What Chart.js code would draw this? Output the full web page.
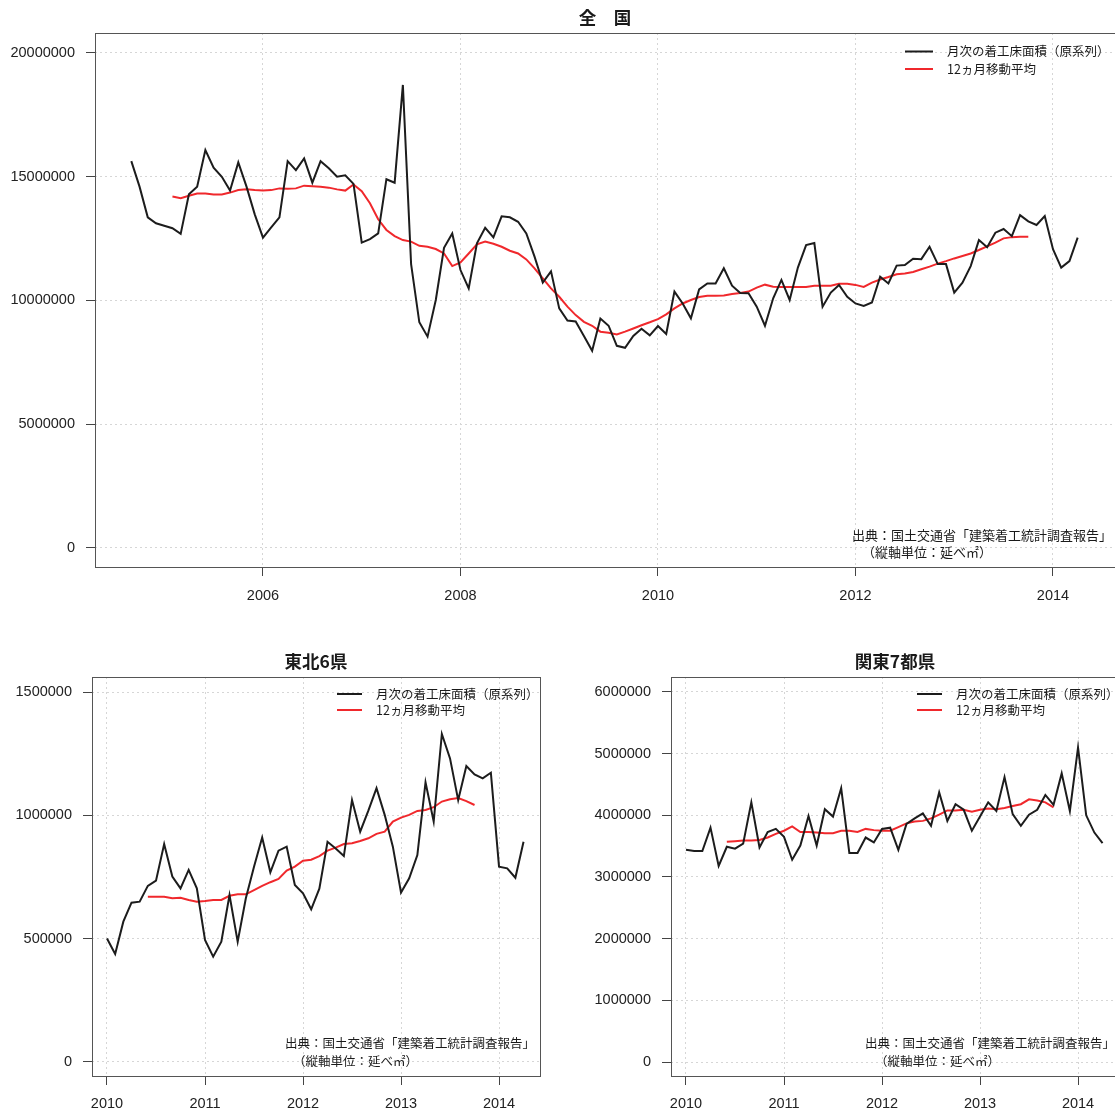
<!DOCTYPE html>
<html lang="ja">
<head>
<meta charset="utf-8">
<title>着工床面積</title>
<script src="https://cdn.jsdelivr.net/npm/chart.js@4.4.1/dist/chart.umd.min.js"></script>
<style>
  html, body { margin: 0; padding: 0; background: #fff; overflow: hidden; }
  body { width: 1115px; height: 1112px; position: relative; }
  canvas { position: absolute; }
</style>
</head>
<body>
<canvas id="zenkoku" width="1115" height="620" style="left:0;top:0"></canvas>
<canvas id="tohoku" width="557" height="482" style="left:0;top:630px"></canvas>
<canvas id="kanto" width="562" height="482" style="left:557px;top:630px"></canvas>
<script>
// 全国: 2004年9月〜2014年4月 (月次)
const zenStart = [2004, 9]
const zenMonthly = [
  15630000, 14600000, 13360000, 13120000,
  13020000, 12920000, 12690000, 14290000, 14600000, 16080000, 15370000, 15000000, 14440000, 15580000, 14600000, 13480000,
  12540000, 12950000, 13360000, 15630000, 15270000, 15740000, 14760000, 15630000, 15340000, 15000000, 15060000, 14710000,
  12340000, 12480000, 12710000, 14900000, 14760000, 18710000, 11470000, 9120000, 8540000, 10020000, 12130000, 12710000,
  11230000, 10490000, 12310000, 12940000, 12550000, 13400000, 13360000, 13180000, 12710000, 11770000, 10720000, 11180000,
  9680000, 9190000, 9150000, 8570000, 7970000, 9270000, 8980000, 8170000, 8090000, 8570000, 8860000, 8590000,
  8970000, 8650000, 10360000, 9880000, 9280000, 10450000, 10690000, 10690000, 11300000, 10600000, 10300000, 10290000,
  9750000, 8980000, 10090000, 10830000, 10020000, 11330000, 12240000, 12320000, 9750000, 10320000, 10630000, 10150000,
  9880000, 9780000, 9920000, 10960000, 10690000, 11410000, 11430000, 11690000, 11670000, 12170000, 11470000, 11470000,
  10320000, 10720000, 11390000, 12440000, 12150000, 12740000, 12890000, 12600000, 13450000, 13200000, 13050000, 13410000,
  12070000, 11330000, 11590000, 12540000
]
const zenMA = [
  null, null, null, null,
  null, 14200000, 14130000, 14230000, 14320000, 14320000, 14280000, 14280000, 14360000, 14460000, 14490000, 14460000,
  14440000, 14460000, 14530000, 14520000, 14530000, 14640000, 14620000, 14600000, 14560000, 14490000, 14440000, 14690000,
  14420000, 13930000, 13280000, 12850000, 12600000, 12440000, 12380000, 12210000, 12170000, 12080000, 11900000, 11390000,
  11540000, 11900000, 12270000, 12380000, 12290000, 12170000, 12010000, 11900000, 11660000, 11300000, 10890000, 10490000,
  10150000, 9750000, 9410000, 9140000, 8980000, 8740000, 8700000, 8630000, 8740000, 8870000, 9000000, 9120000,
  9250000, 9440000, 9680000, 9880000, 10020000, 10140000, 10190000, 10190000, 10200000, 10260000, 10300000, 10360000,
  10520000, 10640000, 10560000, 10550000, 10550000, 10550000, 10550000, 10600000, 10600000, 10600000, 10680000, 10680000,
  10630000, 10550000, 10720000, 10850000, 10950000, 11060000, 11090000, 11150000, 11260000, 11370000, 11490000, 11590000,
  11700000, 11800000, 11900000, 12040000, 12190000, 12340000, 12510000, 12560000, 12580000, 12580000, null, null,
  null, null, null, null
]
const zenYTicks = [0, 5000000, 10000000, 15000000, 20000000]
const zenXTicks = [2006, 2008, 2010, 2012, 2014]

// 東北6県・関東7都県: 2010年1月〜2014年4月
const blocStart = [2010, 1]
const tohokuMonthly = [
  501000, 438000, 569000, 646000, 650000, 714000, 735000, 884000, 752000, 704000, 779000, 704000,
  495000, 427000, 488000, 677000, 488000, 664000, 792000, 910000, 769000, 857000, 873000, 718000,
  684000, 619000, 703000, 893000, 866000, 835000, 1062000, 934000, 1019000, 1110000, 1002000, 873000,
  687000, 745000, 839000, 1134000, 975000, 1330000, 1231000, 1062000, 1200000, 1166000, 1150000, 1173000,
  792000, 785000, 747000, 893000
]
const tohokuMA = [
  null, null, null, null, null, 670000, 670000, 670000, 664000, 666000, 657000, 650000,
  653000, 657000, 657000, 674000, 680000, 680000, 697000, 714000, 729000, 742000, 776000, 792000,
  816000, 820000, 835000, 857000, 869000, 884000, 887000, 896000, 907000, 925000, 934000, 975000,
  991000, 1002000, 1018000, 1022000, 1033000, 1056000, 1065000, 1070000, 1058000, 1042000, null, null,
  null, null, null, null
]
const tohokuYTicks = [0, 500000, 1000000, 1500000]

const kantoMonthly = [
  3440000, 3420000, 3420000, 3800000, 3180000, 3490000, 3460000, 3540000, 4210000, 3480000, 3730000, 3780000,
  3650000, 3280000, 3510000, 3990000, 3510000, 4100000, 3980000, 4440000, 3390000, 3390000, 3640000, 3560000,
  3780000, 3800000, 3440000, 3860000, 3950000, 4030000, 3830000, 4370000, 3910000, 4180000, 4090000, 3750000,
  3980000, 4210000, 4070000, 4620000, 4020000, 3830000, 4010000, 4090000, 4330000, 4170000, 4680000, 4070000,
  5100000, 4000000, 3720000, 3550000
]
const kantoMA = [
  null, null, null, null, null, 3570000, 3580000, 3590000, 3590000, 3600000, 3640000, 3700000,
  3750000, 3820000, 3730000, 3730000, 3720000, 3710000, 3710000, 3750000, 3750000, 3730000, 3780000, 3760000,
  3750000, 3750000, 3810000, 3870000, 3900000, 3910000, 3950000, 4010000, 4080000, 4080000, 4090000, 4060000,
  4090000, 4110000, 4100000, 4120000, 4150000, 4180000, 4260000, 4240000, 4210000, 4130000, null, null,
  null, null, null, null
]
const kantoYTicks = [0, 1000000, 2000000, 3000000, 4000000, 5000000, 6000000]
const blocXTicks = [2010, 2011, 2012, 2013, 2014]

const legendLabels = ['月次の着工床面積（原系列）', '12ヵ月移動平均']
const sourceLines = ['出典：国土交通省「建築着工統計調査報告」', '（縦軸単位：延べ㎡）']

const BLACK = '#1c1c1c'
const RED = '#f0282c'
const tickFont = { family: '"Liberation Sans", Arial, sans-serif', size: 14.5 }
const jpFont = '"Noto Sans CJK JP", sans-serif'

// 月次の値を {x: 年(小数), y} に変換
const toPoints = (start, vals) => vals.map((v, i) => ({ x: start[0] + (start[1] - 1 + i) / 12, y: v }))

// 枠・タイトル・凡例・出典を描く
const decor = {
  id: 'decor',
  afterDraw(chart, args, o) {
    const ctx = chart.ctx
    const a = chart.chartArea
    ctx.save()
    ctx.strokeStyle = '#555'
    ctx.lineWidth = 1
    ctx.strokeRect(Math.round(a.left) + 0.5, Math.round(a.top) + 0.5, a.right - a.left, a.bottom - a.top)

    ctx.fillStyle = '#1a1a1a'
    ctx.textBaseline = 'middle'
    ctx.textAlign = 'center'
    ctx.font = 'bold 17.5px ' + jpFont
    ctx.fillText(o.title, (a.left + a.right) / 2, o.titleY)

    // 凡例
    ctx.textAlign = 'left'
    ctx.font = '12.5px ' + jpFont
    ctx.lineWidth = 2
    ;[BLACK, RED].forEach((c, i) => {
      const y = o.legY[i]
      ctx.strokeStyle = c
      ctx.beginPath()
      ctx.moveTo(o.legX[0], y)
      ctx.lineTo(o.legX[1], y)
      ctx.stroke()
      ctx.fillStyle = '#1a1a1a'
      ctx.fillText(legendLabels[i], o.legX[2], y)
    })

    // 出典
    ctx.font = o.srcSize + 'px ' + jpFont
    ctx.fillText(sourceLines[0], o.src[0], o.src[1])
    ctx.fillText(sourceLines[1], o.src[2], o.src[3])
    ctx.restore()
  }
}

const makeChart = (id, start, monthly, ma, yTicks, xTicks, lim, box, deco) => {
  return new Chart(document.getElementById(id), {
    type: 'line',
    data: {
      datasets: [
        { data: toPoints(start, monthly), borderColor: BLACK, borderWidth: 2, pointRadius: 0, tension: 0 },
        { data: toPoints(start, ma), borderColor: RED, borderWidth: 2, pointRadius: 0, tension: 0 }
      ]
    },
    options: {
      responsive: false,
      animation: false,
      events: [],
      layout: { padding: { top: box.top, right: box.right, bottom: 0, left: 0 } },
      plugins: { legend: { display: false }, tooltip: { enabled: false }, decor: deco },
      scales: {
        x: {
          type: 'linear',
          min: lim[0], max: lim[1],
          afterBuildTicks: s => { s.ticks = xTicks.map(v => ({ value: v })) },
          afterFit: s => { s.height = box.xh },
          ticks: { font: tickFont, color: '#222', padding: box.xpad, maxRotation: 0, callback: v => String(v) },
          grid: { color: '#d6d6d6', lineWidth: 1, tickLength: 9, tickColor: '#444', tickWidth: 1, tickBorderDash: [] },
          border: { display: false, dash: [2, 3] }
        },
        y: {
          min: lim[2], max: lim[3],
          afterBuildTicks: s => { s.ticks = yTicks.map(v => ({ value: v })) },
          afterFit: s => { s.width = box.yw },
          ticks: { font: tickFont, color: '#222', padding: 11, callback: v => String(v) },
          grid: { color: '#d6d6d6', lineWidth: 1, tickLength: 9, tickColor: '#444', tickWidth: 1, tickBorderDash: [] },
          border: { display: false, dash: [2, 3] }
        }
      }
    },
    plugins: [decor]
  })
}

makeChart('zenkoku', zenStart, zenMonthly, zenMA, zenYTicks, zenXTicks,
  [2004.299, 2014.628, -768000, 20808000],
  { top: 33, right: 0, xh: 53, yw: 95, xpad: 11 },
  { title: '全　国', titleY: 17, legX: [905, 933, 947], legY: [51.5, 69], src: [852, 535, 862, 552], srcSize: 13 })

makeChart('tohoku', blocStart, tohokuMonthly, tohokuMA, tohokuYTicks, blocXTicks,
  [2009.847, 2014.418, -56800, 1561000],
  { top: 47, right: 17, xh: 36, yw: 92, xpad: 10 },
  { title: '東北6県', titleY: 31, legX: [337, 362, 376], legY: [64, 80], src: [285, 413, 293, 431], srcSize: 12.5 })

makeChart('kanto', blocStart, kantoMonthly, kantoMA, kantoYTicks, blocXTicks,
  [2009.847, 2014.418, -227000, 6243000],
  { top: 47, right: 0, xh: 36, yw: 114, xpad: 10 },
  { title: '関東7都県', titleY: 31, legX: [360, 385, 399], legY: [64, 80], src: [308, 413, 318, 431], srcSize: 12.5 })
</script>
</body>
</html>
